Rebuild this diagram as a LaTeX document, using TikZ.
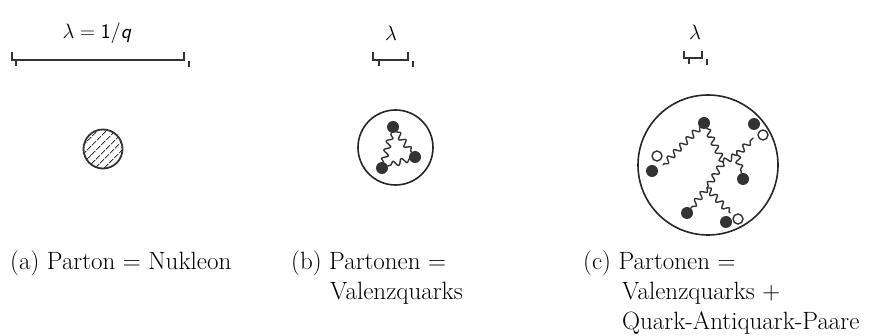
\documentclass[tikz,border=0pt]{standalone}
\usetikzlibrary{patterns.meta,decorations.pathmorphing}
\begin{document}
\begin{tikzpicture}[x=1pt,y=-1pt,
	quark/.style={circle,fill=black!80,inner sep=0pt,minimum size=12pt},
	antiquark/.style={circle,draw=black!80,fill=white,line width=1.4pt,inner sep=0pt,minimum size=10pt},
	gluon/.style={draw=black!80,decorate,decoration={snake,amplitude=3pt,segment length=9pt},line width=1.4pt,line join=round,line cap=round},
	bar/.style={draw=black!80,line width=1.4pt},
	caption/.style={anchor=base west,inner sep=0pt,font=\fontsize{25}{30}\selectfont},
	scalelabel/.style={inner sep=0pt,font=\fontsize{21}{25}\sffamily}]
	\useasboundingbox (0,0) rectangle (875,336);

	% scale bars
	\node [scalelabel] (lama) at (97,33) {$\lambda = \mathsf{1}/\textsf{\textit{q}}$};
	\node [scalelabel] (lamb) at (391,33) {$\lambda$};
	\node [scalelabel] (lamc) at (695,32) {$\lambda$};
	\draw [bar] (12,52) -- (12,60) -- (184,60) -- (184,52);
	\draw [bar] (16,60) -- (16,66) (189,61) -- (189,67);
	\draw [bar] (373,52) -- (373,60) -- (408,60) -- (408,52);
	\draw [bar] (379,60) -- (379,66) (413,61) -- (413,67);
	\draw [bar] (684,51) -- (684,58) -- (702,58) -- (702,51);
	\draw [bar] (689,58) -- (689,64) (707,59) -- (707,65);

	% (a) nucleon
	\node [circle,draw=black!80,line width=1.8pt,minimum size=39pt,inner sep=0pt,
		pattern={Lines[distance=6.5pt,angle=45,line width=1pt]},pattern color=black!80] (nuk) at (103,149) {};

	% (b) valence quarks
	\node [circle,draw=black!85,line width=1.6pt,minimum size=75pt,inner sep=0pt] (protb) at (395.5,147.5) {};
	\node [quark] (qt) at (393,127) {};
	\node [quark] (qr) at (415,157) {};
	\node [quark] (ql) at (382,168) {};
	\draw [gluon] (qt) -- (qr);
	\draw [gluon] (qr) -- (ql);
	\draw [gluon] (ql) -- (qt);

	% (c) valence quarks + sea
	\node [circle,draw=black!85,line width=1.6pt,minimum size=140pt,inner sep=0pt] (protc) at (708,165) {};
	\node [quark] (A) at (704,123) {};
	\node [quark] (B) at (754,124) {};
	\node [antiquark] (Bbar) at (763,135) {};
	\node [antiquark] (Cbar) at (657,156) {};
	\node [quark] (C) at (652,171) {};
	\node [quark] (D) at (743,179) {};
	\node [quark] (E) at (687,213) {};
	\node [quark] (F) at (726,222) {};
	\node [antiquark] (Fbar) at (738,219) {};
	\coordinate (pl) at (663,165);
	\coordinate (pr) at (753,138);
	\coordinate (pb) at (730,213);
	\coordinate (j1) at (723,162);
	\coordinate (j2) at (737,155);
	\coordinate (j3) at (707,188);
	\draw [gluon] (A) -- (pl);
	\draw [gluon] (A) -- (j1);
	\draw [gluon] (j1) -- (j2);
	\draw [gluon] (j2) -- (pr);
	\draw [gluon] (j2) -- (D);
	\draw [gluon] (j1) -- (j3);
	\draw [gluon] (j3) -- (E);
	\draw [gluon] (j3) -- (pb);

	% captions
	\node [caption] (capa) at (10,270) {(a) Parton $=$ Nukleon};
	\node [caption] (capb) at (291,270) {(b) Partonen $=$};
	\node [caption] (capb2) at (330,300) {Valenzquarks};
	\node [caption] (capc) at (583,270) {(c) Partonen $=$};
	\node [caption] (capc2) at (622,300) {Valenzquarks $+$};
	\node [caption] (capc3) at (622,330) {Quark-Antiquark-Paare};
\end{tikzpicture}
\end{document}
